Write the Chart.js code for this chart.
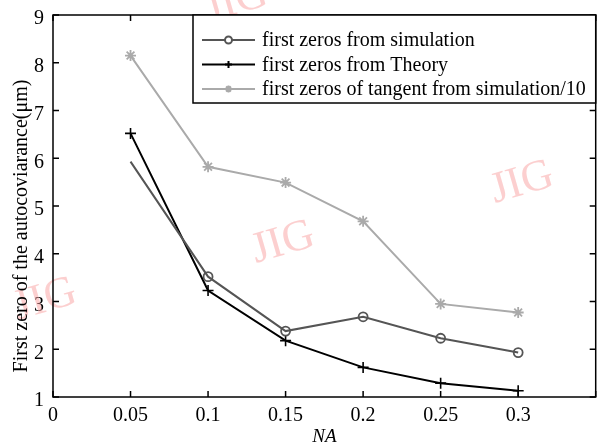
<!DOCTYPE html>
<html>
<head>
<meta charset="utf-8">
<script src="https://cdn.jsdelivr.net/npm/chart.js@4.4.0/dist/chart.umd.min.js"></script>
<style>
  html, body { margin: 0; padding: 0; background: #fff; }
  #wrap { width: 603px; height: 444px; }
</style>
</head>
<body>
<div id="wrap"><canvas id="grafico"></canvas></div>
<script>
// dados
const na = [0.05, 0.1, 0.15, 0.2, 0.25, 0.3];
const simulacao = [5.93, 3.52, 2.38, 2.68, 2.23, 1.93];
const teoria = [6.52, 3.23, 2.18, 1.62, 1.29, 1.13];
const tangente = [8.15, 5.82, 5.49, 4.68, 2.95, 2.77];
const nomes = [
  'first zeros from simulation',
  'first zeros from Theory',
  'first zeros of tangent from simulation/10'
];
const xTickLabels = ['0', '0.05', '0.1', '0.15', '0.2', '0.25', '0.3', ''];
const yTickLabels = ['1', '2', '3', '4', '5', '6', '7', '8', '9'];
const tituloY = 'First zero of the autocoviarance(μm)';

const fonte = 'Liberation Serif';
const pontos = arr => na.map((x, i) => ({ x: x, y: arr[i] }));

// caixa, marcas de escala internas, legenda e marca d'água
const molduraPlugin = {
  id: 'moldura',
  beforeDatasetsDraw(chart) {
    const ctx = chart.ctx;
    ctx.save();
    ctx.fillStyle = 'rgba(250, 160, 160, 0.5)';
    ctx.font = '44px ' + fonte;
    const marcas = [[283, 243], [522, 183], [45, 300], [236, 2]];
    marcas.forEach(([x, y]) => {
      ctx.save();
      ctx.translate(x, y);
      ctx.rotate(-0.28);
      ctx.textAlign = 'center';
      ctx.textBaseline = 'middle';
      ctx.fillText('JIG', 0, 0);
      ctx.restore();
    });
    ctx.restore();
  },
  afterDraw(chart) {
    const ctx = chart.ctx;
    const a = chart.chartArea;
    const xs = chart.scales.x, ys = chart.scales.y;
    ctx.save();
    ctx.strokeStyle = '#000';
    ctx.lineWidth = 1.5;
    ctx.strokeRect(a.left, a.top, a.right - a.left, a.bottom - a.top);
    ctx.beginPath();
    xs.ticks.forEach(t => {
      const px = xs.getPixelForValue(t.value);
      ctx.moveTo(px, a.bottom); ctx.lineTo(px, a.bottom - 6);
      ctx.moveTo(px, a.top); ctx.lineTo(px, a.top + 6);
    });
    ys.ticks.forEach(t => {
      const py = ys.getPixelForValue(t.value);
      ctx.moveTo(a.left, py); ctx.lineTo(a.left + 6, py);
      ctx.moveTo(a.right, py); ctx.lineTo(a.right - 6, py);
    });
    ctx.stroke();

    // título do eixo y
    ctx.save();
    ctx.translate(22, 226);
    ctx.rotate(-Math.PI / 2);
    ctx.fillStyle = '#000';
    ctx.font = '20px ' + fonte;
    ctx.textAlign = 'center';
    ctx.textBaseline = 'middle';
    ctx.fillText(tituloY, 0, 0);
    ctx.restore();

    // legenda
    const bx = 193, by = a.top, bw = a.right - bx, bh = 88;
    ctx.fillStyle = '#fff';
    ctx.fillRect(bx, by, bw, bh);
    ctx.lineWidth = 1.5;
    ctx.strokeRect(bx, by, bw, bh);
    ctx.font = '20px ' + fonte;
    ctx.textBaseline = 'middle';
    ctx.textAlign = 'left';
    chart.data.datasets.forEach((ds, i) => {
      const y = by + 25 + i * 24.5;
      ctx.strokeStyle = ds.borderColor;
      ctx.lineWidth = ds.borderWidth;
      ctx.beginPath();
      ctx.moveTo(202, y); ctx.lineTo(255, y);
      ctx.stroke();
      Chart.helpers.drawPoint(ctx, {
        pointStyle: ds.pointStyle,
        radius: 3.5,
        borderWidth: ds.pointBorderWidth
      }, 228.5, y);
      ctx.fillStyle = '#000';
      ctx.fillText(nomes[i], 262, y + 1);
    });
    ctx.restore();
  }
};

new Chart(document.getElementById('grafico'), {
  type: 'line',
  data: {
    datasets: [
      {
        label: nomes[0],
        data: pontos(simulacao),
        borderColor: '#555555',
        borderWidth: 2,
        pointStyle: 'circle',
        pointRadius: [0, 4.5, 4.5, 4.5, 4.5, 4.5],
        pointBorderWidth: 1.8,
        pointBorderColor: '#555555',
        pointBackgroundColor: 'rgba(0,0,0,0)'
      },
      {
        label: nomes[1],
        data: pontos(teoria),
        borderColor: '#000000',
        borderWidth: 2,
        pointStyle: 'cross',
        pointRadius: 5.5,
        pointBorderWidth: 1.6,
        pointBorderColor: '#000000',
        pointBackgroundColor: '#000000'
      },
      {
        label: nomes[2],
        data: pontos(tangente),
        borderColor: '#aaaaaa',
        borderWidth: 2,
        pointStyle: 'star',
        pointRadius: 5.5,
        pointBorderWidth: 1.8,
        pointBorderColor: '#aaaaaa',
        pointBackgroundColor: '#aaaaaa'
      }
    ]
  },
  options: {
    responsive: true,
    maintainAspectRatio: false,
    animation: false,
    layout: { padding: { top: 15, right: 6, left: 0, bottom: 0 } },
    plugins: {
      legend: { display: false },
      tooltip: { enabled: false }
    },
    scales: {
      x: {
        type: 'linear',
        min: 0,
        max: 0.35,
        afterBuildTicks: s => { s.ticks = xTickLabels.map((_, i) => ({ value: i * 0.05 })); },
        ticks: {
          autoSkip: false,
          maxRotation: 0,
          color: '#000',
          padding: -1,
          font: { family: fonte, size: 20 },
          callback: (v, i) => xTickLabels[i]
        },
        grid: { display: false },
        border: { display: false },
        title: {
          display: true,
          text: 'NA',
          color: '#000',
          padding: { top: 0, bottom: -4 },
          font: { family: fonte, size: 19, style: 'italic' }
        },
        afterFit: s => { s.height = 47; s.paddingLeft = 0; s.paddingRight = 0; }
      },
      y: {
        min: 1,
        max: 9,
        afterBuildTicks: s => { s.ticks = yTickLabels.map(l => ({ value: +l })); },
        ticks: {
          color: '#000',
          padding: 1,
          labelOffset: 4,
          font: { family: fonte, size: 20 },
          callback: (v, i) => yTickLabels[i]
        },
        grid: { display: false },
        border: { display: false },
        afterFit: s => { s.width = 53; s.paddingTop = 0; s.paddingBottom = 0; }
      }
    }
  },
  plugins: [molduraPlugin]
});
</script>
</body>
</html>
